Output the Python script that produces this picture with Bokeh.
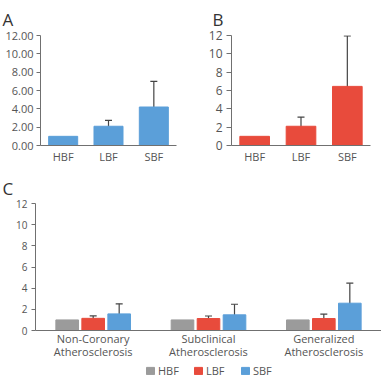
from bokeh.plotting import figure
from bokeh.models import (ColumnDataSource, Whisker, TeeHead, FactorRange, FixedTicker,
                          Legend, LegendItem, Range1d, NumeralTickFormatter)
from bokeh.layouts import column, row
from bokeh.embed import file_html
from bokeh.resources import INLINE

# ---------------- data ----------------
cats = ["HBF", "LBF", "SBF"]
y_ticks = [0, 2, 4, 6, 8, 10, 12]

a_vals = [1.0, 2.1, 4.2]
a_err_cats = ["LBF", "SBF"]
a_lower = [1.65, 2.5]
a_upper = [2.75, 7.0]

b_vals = [1.0, 2.1, 6.45]
b_err_cats = ["LBF", "SBF"]
b_lower = [1.43, 3.5]
b_upper = [3.1, 11.95]

groups = ["Non-Coronary\nAtherosclerosis", "Subclinical\nAtherosclerosis",
          "Generalized\nAtherosclerosis"]
c_hbf = [1.0, 1.0, 1.0]
c_lbf = [1.15, 1.13, 1.13]
c_lbf_lower = [0.88, 0.9, 0.88]
c_lbf_upper = [1.38, 1.37, 1.55]
c_sbf = [1.57, 1.48, 2.58]
c_sbf_lower = [0.95, 0.88, 1.45]
c_sbf_upper = [2.52, 2.48, 4.47]

GRAY = "#9b9b9b"
RED = "#e84b3c"
BLUE = "#5b9fd9"
AXIS = "#707070"
TXT = "#555555"
FONT = "Open Sans"


def style(p, fmt=None, ysize="11px", tick_out=4, standoff=3, tstand=10):
    p.outline_line_color = None
    p.xgrid.visible = False
    p.ygrid.visible = False
    p.title.text_font = FONT
    p.title.text_font_size = "17px"
    p.title.text_font_style = "normal"
    p.title.text_color = "#333333"
    p.title.align = "left"
    p.title.standoff = tstand
    for ax in p.axis:
        ax.axis_line_color = AXIS
        ax.major_label_text_color = TXT
        ax.major_label_text_font = FONT
        ax.minor_tick_line_color = None
    p.xaxis.major_tick_line_color = None
    p.xaxis.major_tick_out = 0
    p.xaxis.major_tick_in = 0
    p.xaxis.major_label_standoff = 3
    p.xaxis.major_label_text_font_size = "11px"
    p.yaxis.major_label_text_font_size = ysize
    p.yaxis.major_tick_line_color = AXIS
    p.yaxis.major_tick_out = tick_out
    p.yaxis.major_tick_in = 0
    p.yaxis.major_label_standoff = standoff
    p.yaxis.ticker = FixedTicker(ticks=y_ticks)
    if fmt:
        p.yaxis.formatter = NumeralTickFormatter(format=fmt)


def whisker(p, src, color="#444444"):
    w = Whisker(source=src, base="x", upper="upper", lower="lower",
                line_color=color, line_width=1.2,
                upper_head=TeeHead(size=7, line_color=color, line_width=1.2),
                lower_head=TeeHead(size=7, line_color=color, line_width=1.2))
    p.add_layout(w)


# ---------------- panel A ----------------
pA = figure(x_range=FactorRange(*cats, range_padding=0), y_range=Range1d(0, 12),
            width=190, height=171, title="A", output_backend="svg",
            toolbar_location=None, min_border_left=40, min_border_right=14,
            min_border_top=33, min_border_bottom=26)
pA.vbar(x=cats, top=a_vals, width=0.64, color=BLUE)
whisker(pA, ColumnDataSource(dict(x=a_err_cats, lower=a_lower, upper=a_upper)))
style(pA, "0.00", tick_out=4, standoff=3)
pA.title.offset = -38

# ---------------- panel B ----------------
pB = figure(x_range=FactorRange(*cats, range_padding=0), y_range=Range1d(0, 12),
            width=191, height=171, title="B", output_backend="svg",
            toolbar_location=None, min_border_left=41, min_border_right=11,
            min_border_top=33, min_border_bottom=26)
pB.vbar(x=cats, top=b_vals, width=0.64, color=RED)
whisker(pB, ColumnDataSource(dict(x=b_err_cats, lower=b_lower, upper=b_upper)))
style(pB, ysize="12px", tick_out=5, standoff=4)
pB.title.offset = -19

# ---------------- panel C ----------------
c_factors = [(g, s) for g in groups for s in cats]
pC = figure(x_range=FactorRange(*c_factors, factor_padding=0, group_padding=1.435,
                                range_padding=0.121),
            y_range=Range1d(0, 12),
            width=381, height=192, title="C", output_backend="svg",
            toolbar_location=None, min_border_left=35, min_border_right=0,
            min_border_top=32, min_border_bottom=33)
rends = []
for s, vals, col in (("HBF", c_hbf, GRAY), ("LBF", c_lbf, RED), ("SBF", c_sbf, BLUE)):
    r = pC.vbar(x=[(g, s) for g in groups], top=vals, width=0.87, color=col)
    rends.append(r)
for s, lo, hi in (("LBF", c_lbf_lower, c_lbf_upper), ("SBF", c_sbf_lower, c_sbf_upper)):
    whisker(pC, ColumnDataSource(dict(x=[(g, s) for g in groups], lower=lo, upper=hi)))
style(pC, ysize="10px", tick_out=4, standoff=4, tstand=7)
pC.title.offset = -33
ax = pC.xaxis[0]
ax.major_label_text_font_size = "1px"
ax.major_label_text_alpha = 0
ax.major_label_standoff = 0
ax.separator_line_color = None
ax.group_text_font = FONT
ax.group_text_font_size = "11px"
ax.group_text_color = TXT
ax.group_text_font_style = "normal"
ax.group_text_line_height = 0.92

# ---------------- legend strip ----------------
pL = figure(x_range=Range1d(0, 1), y_range=Range1d(0, 1), width=381, height=15,
            output_backend="svg", toolbar_location=None,
            x_axis_location=None, y_axis_location=None,
            min_border_left=0, min_border_right=0, min_border_top=0, min_border_bottom=0)
pL.outline_line_color = None
pL.grid.visible = False
# legend-only renderers: their bars sit outside the strip's visible range
lrends = [pL.vbar(x=[5], top=[1], width=0.1, color=col) for col in (GRAY, RED, BLUE)]
legend = Legend(items=[LegendItem(label=s, renderers=[r]) for s, r in zip(cats, lrends)],
                orientation="horizontal", location=(110, 0),
                glyph_width=10, glyph_height=9, label_standoff=3, spacing=14,
                padding=0, margin=0, border_line_color=None, background_fill_alpha=0,
                label_text_font=FONT, label_text_font_size="11px",
                label_text_color=TXT, label_height=9)
pL.add_layout(legend)

layout = column(row(pA, pB), pC, pL,
                styles={"position": "absolute", "left": "0px", "top": "0px"})
open("out.html", "w").write(file_html(layout, INLINE))
